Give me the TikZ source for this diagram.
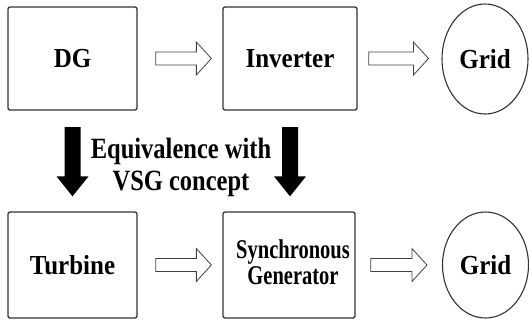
\documentclass[tikz,border=0pt]{standalone}
\usepackage{fontspec}
\setmainfont{Liberation Serif}
\usetikzlibrary{calc}
\tikzset{
  box/.style={draw=black!80, line width=1.3pt, rounded corners=2pt, fill=white, inner sep=0pt},
  gridnode/.style={draw=black!80, line width=1.1pt, ellipse, inner sep=0pt},
  lbl/.style={font=\fontsize{25}{28}\selectfont\bfseries},
  hollow/.style={draw=black!75, line width=0.8pt, fill=white},
  solid/.style={fill=black}
}
\newcommand\hollowarrow[4]{%
  \draw[hollow] let \p1=($(#1.east)+(#3,0)$), \p2=($(#2.west)-(#4,0)$) in
    (\x1,\y1+6.5pt) -- (\x2-15pt,\y1+6.5pt) -- (\x2-15pt,\y1+16.5pt) -- (\x2,\y1)
    -- (\x2-15pt,\y1-16.5pt) -- (\x2-15pt,\y1-6.5pt) -- (\x1,\y1-6.5pt) -- cycle;}
\newcommand\solidarrow[2]{%
  \fill[solid] let \p1=($(#1.south)+(0,-16.5pt)$), \p2=($(#2.north)+(0,15pt)$) in
    (\x1-8pt,\y1) -- (\x1+8pt,\y1) -- (\x1+8pt,\y2+20pt) -- (\x1+16pt,\y2+20pt)
    -- (\x1,\y2) -- (\x1-16pt,\y2+20pt) -- (\x1-8pt,\y2+20pt) -- cycle;}
\usetikzlibrary{shapes.geometric}
\begin{document}
\begin{tikzpicture}[x=1pt,y=-1pt]
\useasboundingbox (0,0) rectangle (529,325);
% top row
\node[box, minimum width=129pt, minimum height=103pt, lbl] (dg) at (72.5,58.5) {\scalebox{1}[1.1]{DG}};
\node[box, minimum width=134pt, minimum height=103pt, lbl] (inv) at (290,58.5) {\scalebox{1}[1.1]{Inverter}};
\node[gridnode, minimum width=86pt, minimum height=110pt, lbl] (g1) at (485,59) {\scalebox{1}[1.1]{Grid}};
% bottom row
\node[box, minimum width=129pt, minimum height=106pt, lbl] (turb) at (72.5,265) {\scalebox{1}[1.1]{Turbine}};
\node[box, minimum width=132pt, minimum height=106pt] (sg) at (289,265) {};
\node[font=\fontsize{20.5}{19.7}\selectfont\bfseries, inner sep=0pt] (sgt) at (293,266)
  {\scalebox{1}[1.32]{\begin{tabular}{@{}c@{}}Synchronous\\Generator\end{tabular}}};
\node[gridnode, minimum width=86pt, minimum height=106pt, lbl] (g2) at (485.5,265) {\scalebox{1}[1.1]{Grid}};
% hollow arrows
\hollowarrow{dg}{inv}{18pt}{11pt}
\hollowarrow{inv}{g1}{11pt}{13pt}
\hollowarrow{turb}{sg}{18pt}{11pt}
\hollowarrow{sg}{g2}{15pt}{15pt}
% solid arrows
\solidarrow{dg}{turb}
\solidarrow{inv}{sg}
% middle text
\node[font=\fontsize{24.5}{26.7}\selectfont\bfseries, inner sep=0pt] (eq) at (181,168)
  {\scalebox{1}[1.2]{\begin{tabular}{@{}c@{}}Equivalence with\\VSG concept\end{tabular}}};
\end{tikzpicture}
\end{document}
